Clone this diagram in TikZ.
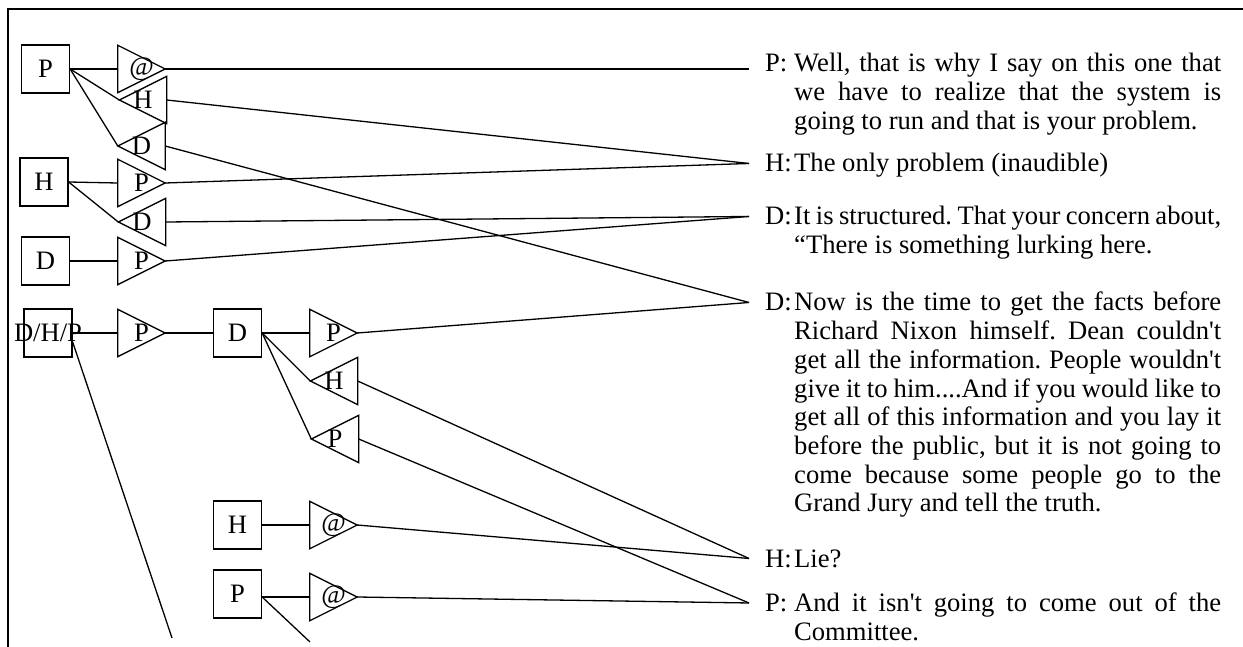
\documentclass[tikz,border=0pt]{standalone}
\usepackage{fontspec}
\setmainfont{Liberation Serif}[Ligatures=TeXOff]
\begin{document}
\begin{tikzpicture}[x=1pt,y=-1pt,
  every node/.style={font=\fontsize{26.6}{28.7}\selectfont},
  conn/.style={line width=1.3pt},
  frame/.style={line width=1.6pt},
  spkbox/.style={draw, line width=1.3pt, minimum size=48pt, inner sep=0pt},
  tribox/.style={minimum size=47pt, inner sep=0pt},
  tag/.style={anchor=base west, inner xsep=16pt, inner ysep=0pt},
  utt/.style={anchor=base west, inner sep=0pt, text width=427pt, align=justify,
    execute at begin node={\frenchspacing\hyphenpenalty=10000\tolerance=9999\emergencystretch=0pt}},
]
\useasboundingbox (0,0) rectangle (1243,647);
\clip (0,0) rectangle (1243,647);

% outer frame (top and left edges)
\draw[frame] (1250,9) -- (8,9) -- (8,650);

% speaker boxes
\node[spkbox] (bP1)  at (45.5,69)  {P};
\node[spkbox] (bH1)  at (44,182)   {H};
\node[spkbox] (bD1)  at (45.5,261) {D};
\node[spkbox] (bDHP) at (48,333)   {\makebox[0pt]{D/H/P}};
\node[spkbox] (bD2)  at (237.5,333) {D};
\node[spkbox] (bH2)  at (237.5,525) {H};
\node[spkbox] (bP2)  at (237.5,594) {P};

% addressee triangles pointing right
\node[tribox] (r1) at (141.5,69)  {@};
\node[tribox] (r2) at (141.5,183) {P};
\node[tribox] (r3) at (141.5,261) {P};
\node[tribox] (r4) at (141.5,333) {P};
\node[tribox] (r5) at (333.5,333) {P};
\node[tribox] (r6) at (333.5,525) {@};
\node[tribox] (r7) at (333.5,597) {@};
% triangles pointing left
\node[tribox] (l1) at (143,100)   {H};
\node[tribox] (l2) at (141.5,146) {D};
\node[tribox] (l3) at (142,222)   {D};
\node[tribox] (l4) at (334,381)   {H};
\node[tribox] (l5) at (335,439)   {P};

\foreach \n in {r1,r2,r3,r4,r5,r6,r7}
  \draw[conn] (\n.north west) -- (\n.east) -- (\n.south west) -- cycle;
\foreach \n in {l1,l2,l3,l4,l5}
  \draw[conn] (\n.west) -- (\n.north east) -- (\n.south east) -- cycle;

% utterances
\node[tag] (sP1) at (749,72)  {P:};
\node[utt] (uP1) at (794,72)  {Well, that is why I say on this one that\linebreak
  we have to realize that the system is\linebreak
  going to run and that is your problem.};
\node[tag] (sH1) at (749,172) {H:};
\node[utt] (uH1) at (794,172) {The only problem (inaudible)};
\node[tag] (sD1) at (749,225) {D:};
\node[utt] (uD1) at (794,225) {It is structured. That your concern about,\linebreak
  “There is something lurking here.};
\node[tag] (sD2) at (749,311) {D:};
\node[utt] (uD2) at (794,311) {Now is the time to get the facts before\linebreak
  Richard Nixon himself. Dean couldn't\linebreak
  get all the information. People wouldn't\linebreak
  give it to him....And if you would like to\linebreak
  get all of this information and you lay it\linebreak
  before the public, but it is not going to\linebreak
  come because some people go to the\linebreak
  Grand Jury and tell the truth.};
\node[tag] (sH2) at (749,567) {H:};
\node[utt] (uH2) at (794,567) {Lie?};
\node[tag] (sP2) at (749,611.5) {P:};
\node[utt] (uP2) at (794,611.5) {And it isn't going to come out of the\linebreak
  Committee.};

% loose ends running off the bottom
\coordinate (endA) at (172,638);
\coordinate (endB) at (310,642);

% connectors
\draw[conn] (bP1.east) -- (r1.west);
\draw[conn] (bP1.east) -- (l1.west);
\draw[conn] (bP1.east) -- (l2.west);
\draw[conn] (r1.east) -- (r1.east -| sP1.west);
\draw[conn] (l1.east) -- (sH1.west);
\draw[conn] (l2.east) -- (sD2.west);

\draw[conn] (bH1.east) -- (r2.west);
\draw[conn] (bH1.east) -- (l3.west);
\draw[conn] (r2.east) -- (sH1.west);
\draw[conn] (l3.east) -- (sD1.west);

\draw[conn] (bD1.east) -- (r3.west);
\draw[conn] (r3.east) -- (sD1.west);

\draw[conn] (bDHP.east) -- (r4.west);
\draw[conn] (r4.east) -- (bD2.west);
\draw[conn] (bDHP.-20) -- (endA);

\draw[conn] (bD2.east) -- (r5.west);
\draw[conn] (bD2.east) -- (l4.west);
\draw[conn] (bD2.east) -- (l5.west);
\draw[conn] (r5.east) -- (sD2.west);
\draw[conn] (l4.east) -- (sH2.west);
\draw[conn] (l5.east) -- (sP2.west);

\draw[conn] (bH2.east) -- (r6.west);
\draw[conn] (r6.east) -- (sH2.west);

\draw[conn] (bP2.east |- r7.west) -- (r7.west);
\draw[conn] (r7.east) -- (sP2.west);
\draw[conn] (bP2.east |- r7.west) -- (endB);
\end{tikzpicture}
\end{document}
